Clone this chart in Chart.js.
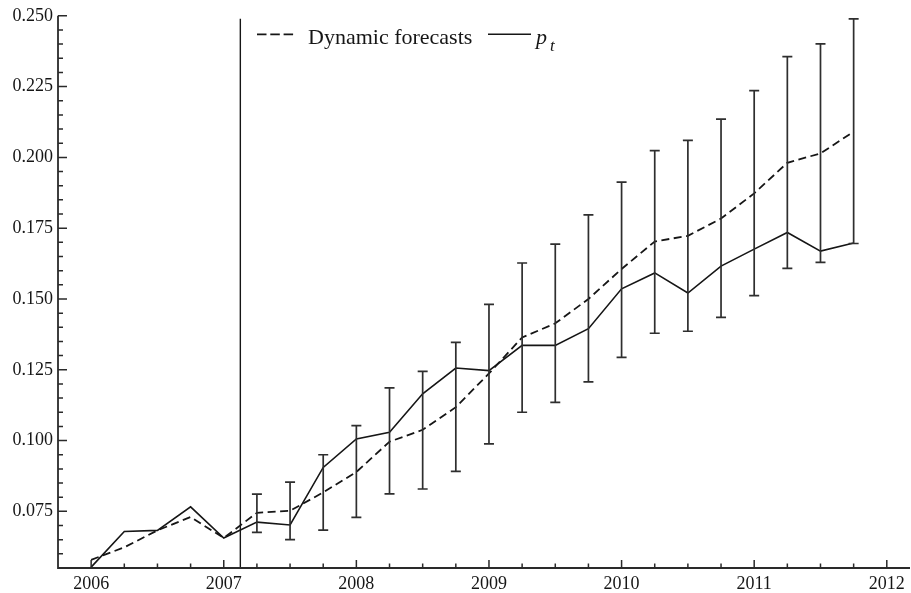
<!DOCTYPE html>
<html>
<head>
<meta charset="utf-8">
<script src="https://cdn.jsdelivr.net/npm/chart.js@4.4.1/dist/chart.umd.min.js"></script>
<style>
  html, body { margin: 0; padding: 0; background: #fff; }
  #wrap { width: 911px; height: 593px; }
</style>
</head>
<body>
<div id="wrap"><canvas id="c" width="911" height="593"></canvas></div>
<script>
// Quarterly observations, 2006Q1 .. 2011Q4
const quarters = [
  2006.00, 2006.25, 2006.50, 2006.75,
  2007.00, 2007.25, 2007.50, 2007.75,
  2008.00, 2008.25, 2008.50, 2008.75,
  2009.00, 2009.25, 2009.50, 2009.75,
  2010.00, 2010.25, 2010.50, 2010.75,
  2011.00, 2011.25, 2011.50, 2011.75
];

// Dynamic forecasts (dashed)
const forecast = [
  0.0579, 0.0623, 0.0683, 0.0730,
  0.0656, 0.0745, 0.0752, 0.0817,
  0.0889, 0.0996, 0.1038, 0.1118,
  0.1237, 0.1364, 0.1414, 0.1500,
  0.1606, 0.1703, 0.1723, 0.1784,
  0.1873, 0.1981, 0.2014, 0.2091
];

// Observed p_t (solid)
const actual = [
  0.0553, 0.0679, 0.0683, 0.0766,
  0.0656, 0.0712, 0.0702, 0.0905,
  0.1006, 0.1029, 0.1165, 0.1256,
  0.1247, 0.1336, 0.1336, 0.1395,
  0.1536, 0.1592, 0.1521, 0.1616,
  0.1676, 0.1735, 0.1669, 0.1698
];

// Forecast intervals, 2007Q2 .. 2011Q4
const bandQuarters = [
  2007.25, 2007.50, 2007.75,
  2008.00, 2008.25, 2008.50, 2008.75,
  2009.00, 2009.25, 2009.50, 2009.75,
  2010.00, 2010.25, 2010.50, 2010.75,
  2011.00, 2011.25, 2011.50, 2011.75
];
const bandUpper = [
  0.0811, 0.0853, 0.0950,
  0.1053, 0.1186, 0.1244, 0.1347,
  0.1481, 0.1627, 0.1694, 0.1797,
  0.1913, 0.2024, 0.2060, 0.2135,
  0.2236, 0.2356, 0.2401, 0.2489
];
const bandLower = [
  0.0676, 0.0650, 0.0684,
  0.0729, 0.0812, 0.0829, 0.0891,
  0.0988, 0.1100, 0.1135, 0.1207,
  0.1294, 0.1379, 0.1386, 0.1435,
  0.1512, 0.1608, 0.1629, 0.1696
];

// Start of the forecast period (vertical marker)
const forecastOrigin = 2007.125;
const markerTop = 0.249;

// Axis tick labels
const xTickLabels = [2006, 2007, 2008, 2009, 2010, 2011, 2012];
const yTickLabels = [0.075, 0.100, 0.125, 0.150, 0.175, 0.200, 0.225, 0.250];

const X_MIN = 2005.75, X_MAX = 2012.175;
const Y_MIN = 0.055, Y_MAX = 0.250;
const SERIF = '"Liberation Serif", "Times New Roman", serif';
const INK = '#161616';

const toPoints = (xs, ys) => xs.map((x, i) => ({ x: x, y: ys[i] }));

// Error bars with caps, placed through the chart's own scales
const errorBars = {
  id: 'errorBars',
  afterDatasetsDraw(chart) {
    const { ctx, scales: { x, y } } = chart;
    const cap = 5;
    ctx.save();
    ctx.strokeStyle = '#2e2e2e';
    ctx.lineWidth = 1.7;
    ctx.setLineDash([]);
    bandQuarters.forEach((q, i) => {
      const px = x.getPixelForValue(q);
      const top = y.getPixelForValue(bandUpper[i]);
      const bot = y.getPixelForValue(bandLower[i]);
      ctx.beginPath();
      ctx.moveTo(px, top); ctx.lineTo(px, bot);
      ctx.moveTo(px - cap, top); ctx.lineTo(px + cap, top);
      ctx.moveTo(px - cap, bot); ctx.lineTo(px + cap, bot);
      ctx.stroke();
    });
    ctx.restore();
  }
};

// Left and bottom axis lines with inward tick marks
const frameAxes = {
  id: 'frameAxes',
  afterDraw(chart) {
    const { ctx, chartArea: a, scales: { x, y } } = chart;
    ctx.save();
    ctx.strokeStyle = '#2a2a2a';
    ctx.lineWidth = 1.8;
    ctx.setLineDash([]);
    ctx.beginPath();
    ctx.moveTo(a.left, a.top); ctx.lineTo(a.left, a.bottom);
    ctx.lineTo(a.right, a.bottom);
    ctx.stroke();

    ctx.lineWidth = 1.5;
    ctx.beginPath();
    // y ticks: major every 0.025, minor every 0.005
    for (let k = Math.round(Y_MIN / 0.005) + 1; k * 0.005 <= Y_MAX + 1e-9; k++) {
      const v = k * 0.005;
      const major = k % 5 === 0;
      const py = y.getPixelForValue(v);
      ctx.moveTo(a.left, py); ctx.lineTo(a.left + (major ? 9 : 5), py);
    }
    // x ticks: major every year, minor every quarter
    for (let k = Math.round(X_MIN * 4) + 1; k / 4 <= X_MAX; k++) {
      const v = k / 4;
      const major = k % 4 === 0;
      const px = x.getPixelForValue(v);
      ctx.moveTo(px, a.bottom); ctx.lineTo(px, a.bottom - (major ? 8 : 4.5));
    }
    ctx.stroke();
    ctx.restore();
  }
};

// Legend: dashed "Dynamic forecasts", solid p_t
const legendBox = {
  id: 'legendBox',
  afterDraw(chart) {
    const { ctx, chartArea: a } = chart;
    const ly = a.top + 18.5;
    const base = a.top + 28.5;
    ctx.save();
    ctx.strokeStyle = INK;
    ctx.lineWidth = 1.8;
    ctx.setLineDash([9.5, 3.8]);
    ctx.beginPath();
    ctx.moveTo(a.left + 199, ly); ctx.lineTo(a.left + 236, ly);
    ctx.stroke();
    ctx.setLineDash([]);
    ctx.lineWidth = 1.6;
    ctx.beginPath();
    ctx.moveTo(a.left + 430, ly); ctx.lineTo(a.left + 473, ly);
    ctx.stroke();

    ctx.fillStyle = INK;
    ctx.textBaseline = 'alphabetic';
    ctx.textAlign = 'left';
    ctx.font = '22px ' + SERIF;
    ctx.fillText('Dynamic forecasts', a.left + 250, base);
    ctx.font = 'italic 22px ' + SERIF;
    ctx.fillText('p', a.left + 478, base);
    ctx.font = 'italic 17px ' + SERIF;
    ctx.fillText('t', a.left + 492, base + 6.5);
    ctx.restore();
  }
};

new Chart(document.getElementById('c'), {
  type: 'line',
  data: {
    datasets: [
      {
        label: 'Dynamic forecasts',
        data: toPoints(quarters, forecast),
        borderColor: INK,
        borderWidth: 1.8,
        borderDash: [8, 4.5],
        pointRadius: 0,
        tension: 0,
        fill: false
      },
      {
        label: 'p_t',
        data: toPoints(quarters, actual),
        borderColor: INK,
        borderWidth: 1.6,
        pointRadius: 0,
        tension: 0,
        fill: false
      },
      {
        label: 'forecast origin',
        data: [{ x: forecastOrigin, y: Y_MIN }, { x: forecastOrigin, y: markerTop }],
        borderColor: INK,
        borderWidth: 1.4,
        pointRadius: 0,
        fill: false
      }
    ]
  },
  options: {
    responsive: false,
    animation: false,
    devicePixelRatio: 1,
    layout: { padding: { top: 15, right: 1, left: 0, bottom: 0 } },
    plugins: {
      legend: { display: false },
      tooltip: { enabled: false }
    },
    scales: {
      x: {
        type: 'linear',
        min: X_MIN,
        max: X_MAX,
        grid: { display: false, drawTicks: false },
        border: { display: false },
        afterBuildTicks: (s) => { s.ticks = xTickLabels.map(v => ({ value: v })); },
        afterFit: (s) => { s.height = 25; },
        ticks: {
          padding: 5,
          autoSkip: false,
          maxRotation: 0,
          color: INK,
          font: { family: SERIF, size: 18 },
          callback: (v) => String(v)
        }
      },
      y: {
        type: 'linear',
        min: Y_MIN,
        max: Y_MAX,
        grid: { display: false, drawTicks: false },
        border: { display: false },
        afterBuildTicks: (s) => { s.ticks = yTickLabels.map(v => ({ value: v })); },
        afterFit: (s) => { s.width = 58; },
        ticks: {
          padding: 5,
          autoSkip: false,
          color: INK,
          font: { family: SERIF, size: 18 },
          callback: (v) => Number(v).toFixed(3)
        }
      }
    }
  },
  plugins: [errorBars, frameAxes, legendBox]
});
</script>
</body>
</html>
